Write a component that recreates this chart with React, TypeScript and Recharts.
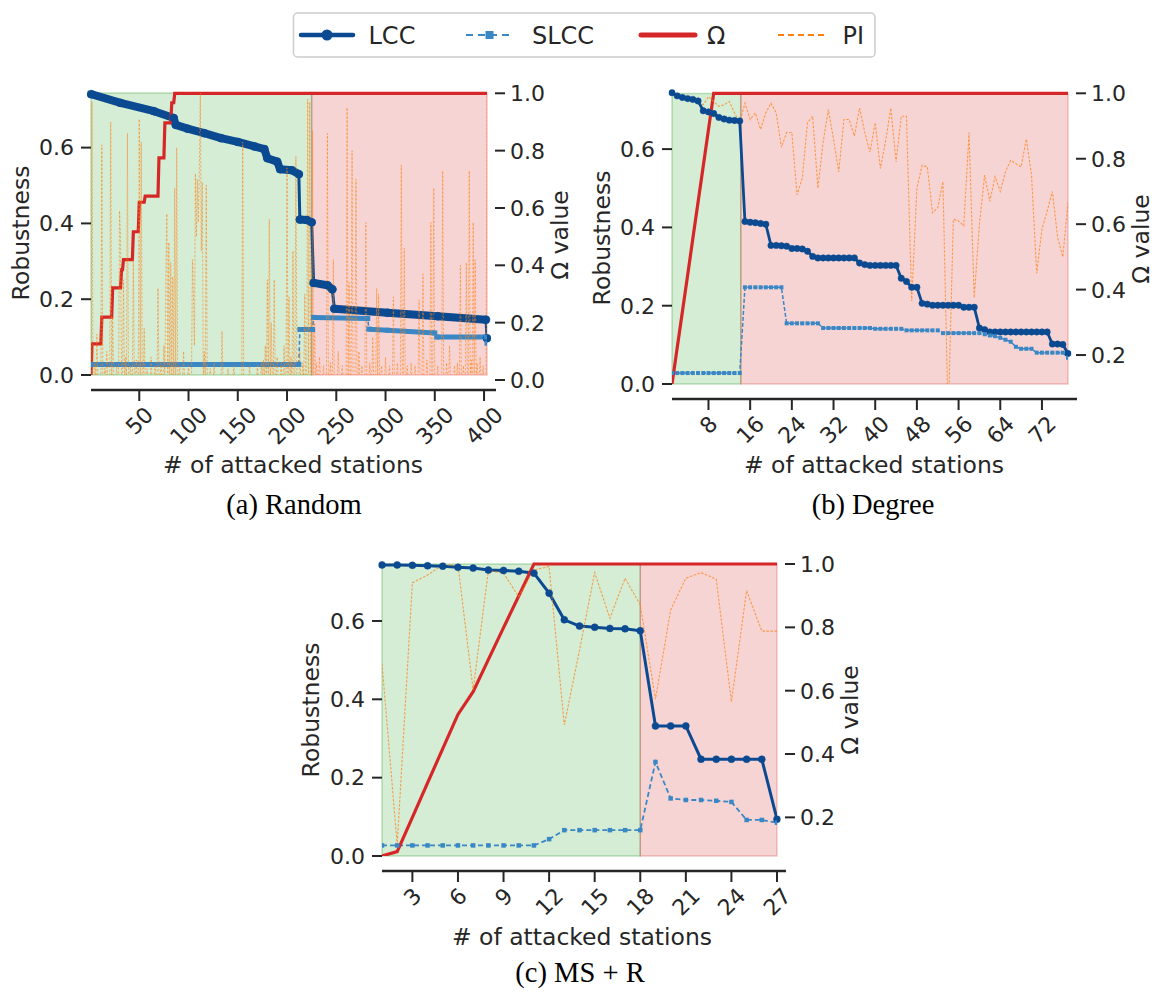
import React from 'react'
import { ComposedChart, Line, XAxis, YAxis, ReferenceArea, ReferenceLine } from 'recharts'

const PAGE_W = 1162
const PAGE_H = 992
const SANS = '"DejaVu Sans", "Noto Sans", sans-serif'
const SERIF = '"Liberation Serif", "DejaVu Serif", serif'
const INK = '#262626'
const LCC_BLUE = '#0b4a91'
const SLCC_BLUE = '#3a87c6'
const OMEGA_RED = '#d62728'
const PI_ORANGE = '#ff7f0e'
const SAFE_GREEN = '#2ca02c'

type XY = [number, number]

// ---------- (a) Random: 403 attacked stations ----------
// LCC / SLCC are long smooth runs, stored as the stations where they bend.
// Each inner list is one run; the jumps between runs are single-station drops.
const randomRange: [number, number] = [1, 403]
const randomSplit = 225
const randomLcc: XY[][] = [
  [[1, 0.741], [31, 0.718], [65, 0.696], [85, 0.678], [87, 0.66], [99, 0.65], [116, 0.638], [133, 0.625],
   [150, 0.615], [167, 0.603], [177, 0.596], [180, 0.572], [190, 0.563], [193, 0.543], [205, 0.54], [212, 0.53]],
  [[213, 0.41], [220, 0.409], [225, 0.403]],
  [[227, 0.243], [241, 0.237], [246, 0.226]],
  [[248, 0.175], [302, 0.164], [353, 0.155], [402, 0.146]],
  [[403, 0.097]],
]
const randomSlcc: XY[][] = [
  [[1, 0.028], [212, 0.028]],
  [[213, 0.12], [226, 0.12]],
  [[227, 0.152], [282, 0.149]],
  [[283, 0.121], [302, 0.118], [350, 0.111]],
  [[352, 0.1], [402, 0.1]],
  [[403, 0.084]],
]
// Omega is a staircase: value held between listed stations
const randomOmega: XY[] = [
  [1, 0.017], [2, 0.126], [11, 0.126], [12, 0.219], [22, 0.219], [23, 0.321], [31, 0.321], [32, 0.385],
  [33, 0.385], [34, 0.42], [43, 0.42], [44, 0.517], [49, 0.517], [50, 0.62], [55, 0.62], [56, 0.641],
  [69, 0.641], [70, 0.775], [75, 0.775], [76, 0.897], [82, 0.897], [83, 0.967], [85, 0.967], [86, 1.0],
  [403, 1.0],
]
// PI is zero except at these stations
const randomPiSpikes: XY[] = [
  [2, 0.97], [5, 0.06], [7, 0.16], [12, 0.82], [15, 0.04], [17, 0.1], [21, 0.9], [23, 0.22], [27, 0.05],
  [30, 0.59], [31, 0.5], [34, 0.35], [36, 0.08], [38, 0.86], [41, 0.05], [44, 0.42], [47, 0.07], [50, 0.91],
  [52, 0.83], [55, 0.18], [58, 0.04], [62, 0.08], [66, 0.05], [69, 0.32], [72, 0.06], [75, 0.12], [77, 0.36],
  [78, 0.58], [80, 0.48], [82, 0.41], [84, 0.36], [86, 0.67], [88, 0.81], [91, 0.05], [95, 0.1], [100, 0.05],
  [104, 0.42], [105, 0.3], [106, 0.12], [107, 0.72], [108, 0.5], [109, 0.7], [110, 0.55], [111, 0.74],
  [112, 1.0], [113, 0.45], [114, 0.69], [116, 0.1], [118, 0.68], [122, 0.04], [126, 0.06], [134, 0.17],
  [140, 0.04], [146, 0.05], [155, 0.83], [162, 0.05], [170, 0.05], [174, 0.06], [176, 0.07], [178, 0.12],
  [180, 0.35], [182, 0.56], [184, 0.2], [187, 0.35], [190, 0.08], [194, 0.06], [197, 0.12], [200, 0.74],
  [202, 0.29], [204, 0.08], [206, 0.45], [209, 0.78], [213, 0.1], [216, 0.06], [218, 0.3], [221, 0.98],
  [223, 0.97], [226, 0.87], [228, 0.2], [230, 0.06], [233, 0.08], [237, 0.05], [241, 0.86], [244, 0.06],
  [247, 0.42], [252, 0.1], [256, 0.05], [261, 0.95], [263, 0.34], [266, 0.8], [270, 0.7], [273, 0.1],
  [276, 0.05], [280, 0.55], [284, 0.06], [287, 0.15], [291, 0.32], [293, 0.3], [296, 0.05], [300, 0.08],
  [304, 0.05], [308, 0.29], [312, 0.06], [316, 0.75], [319, 0.46], [322, 0.05], [326, 0.06], [330, 0.05],
  [334, 0.28], [338, 0.37], [342, 0.07], [346, 0.55], [349, 0.67], [353, 0.05], [358, 0.73], [362, 0.06],
  [365, 0.12], [370, 0.05], [373, 0.06], [376, 0.4], [379, 0.05], [382, 0.41], [385, 0.73], [387, 0.07],
  [389, 0.55], [391, 0.42], [393, 0.06], [396, 0.08], [399, 0.05], [403, 1.0],
]

// ---------- (b) Degree: 77 attacked stations ----------
const degreeSplit = 14.2
const degreeLcc = [
  0.744, 0.736, 0.732, 0.729, 0.727, 0.723, 0.698, 0.695, 0.691, 0.681, 0.677, 0.674, 0.673, 0.672,
  0.415, 0.413, 0.412, 0.41, 0.408,
  0.354, 0.354, 0.353, 0.352, 0.346, 0.346, 0.345, 0.339,
  0.326, 0.322, 0.322, 0.322, 0.322, 0.322, 0.322, 0.322, 0.322,
  0.309, 0.305, 0.303, 0.303, 0.303, 0.303, 0.303, 0.303,
  0.27, 0.262, 0.247, 0.247,
  0.206, 0.204, 0.201, 0.201, 0.201, 0.201, 0.201, 0.201,
  0.196, 0.196, 0.196,
  0.143, 0.139, 0.133, 0.133, 0.133, 0.133, 0.133, 0.133, 0.133, 0.133, 0.133, 0.133, 0.133, 0.133,
  0.102, 0.102, 0.101, 0.078,
]
const degreeSlcc = [
  0.028, 0.028, 0.028, 0.028, 0.028, 0.028, 0.028, 0.028, 0.028, 0.028, 0.028, 0.028, 0.028, 0.028,
  0.247, 0.247, 0.247, 0.247, 0.247, 0.247, 0.247, 0.247,
  0.155, 0.155, 0.155, 0.155, 0.155, 0.155, 0.155,
  0.143, 0.143, 0.143, 0.143, 0.143, 0.143, 0.143, 0.143, 0.143, 0.143,
  0.141, 0.141, 0.141, 0.141, 0.141, 0.141,
  0.137, 0.137, 0.137, 0.137, 0.137, 0.137, 0.137,
  0.13, 0.13, 0.13, 0.13, 0.13, 0.13, 0.13, 0.13,
  0.127, 0.124, 0.122, 0.118, 0.113, 0.108, 0.095, 0.09, 0.09, 0.09,
  0.08, 0.08, 0.08, 0.08, 0.08, 0.08, 0.067,
]
const degreeOmega: XY[] = [
  [1, 0.111], [2, 0.222], [3, 0.333], [4, 0.444], [5, 0.556], [6, 0.667], [7, 0.778], [8, 0.889],
  [9, 1.0], [77, 1.0],
]
const degreePi = [
  1.0, 0.995, 0.99, 0.985, 0.98, 0.975, 0.965, 0.99, 0.975, 0.96, 0.965, 0.975, 0.94, 0.91,
  0.97, 0.92, 0.94, 0.89, 0.94, 0.97, 0.94, 0.835, 0.88, 0.88, 0.69, 0.74, 0.91, 0.93, 0.71, 0.85,
  0.95, 0.86, 0.76, 0.92, 0.92, 0.87, 0.955, 0.88, 0.82, 0.91, 0.77, 0.855, 0.955, 0.79, 0.93, 0.93,
  0.365, 0.71, 0.78, 0.775, 0.635, 0.65, 0.73, 0.0, 0.615, 0.61, 0.595, 0.88, 0.375, 0.6, 0.75, 0.67,
  0.745, 0.7, 0.76, 0.795, 0.785, 0.775, 0.86, 0.75, 0.45, 0.585, 0.64, 0.7, 0.56, 0.5, 0.667,
]

// ---------- (c) MS + R: 27 attacked stations ----------
const msrSplit = 18
const msrLcc = [
  0.743, 0.743, 0.742, 0.741, 0.74, 0.737, 0.735, 0.73, 0.729, 0.727, 0.722, 0.671, 0.603, 0.587,
  0.584, 0.581, 0.58, 0.575, 0.332, 0.332, 0.332, 0.247, 0.247, 0.247, 0.247, 0.247, 0.094,
]
const msrSlcc = [
  0.027, 0.027, 0.027, 0.027, 0.027, 0.027, 0.027, 0.027, 0.027, 0.027, 0.027, 0.043, 0.066, 0.066,
  0.066, 0.066, 0.066, 0.066, 0.24, 0.147, 0.143, 0.143, 0.141, 0.138, 0.092, 0.092, 0.085,
]
const msrOmega = [
  0.078, 0.092, 0.2, 0.309, 0.417, 0.525, 0.597, 0.698, 0.799, 0.899, 1.0, 1.0, 1.0, 1.0,
  1.0, 1.0, 1.0, 1.0, 1.0, 1.0, 1.0, 1.0, 1.0, 1.0, 1.0, 1.0, 1.0,
]
const msrPi = [
  0.686, 0.114, 0.941, 0.965, 0.997, 0.997, 0.602, 0.979, 0.971, 0.897, 0.981, 0.992, 0.492, 0.728,
  0.973, 0.829, 0.955, 0.871, 0.573, 0.855, 0.955, 0.973, 0.952, 0.565, 0.916, 0.788, 0.788,
]

const robustTicks = [0, 0.2, 0.4, 0.6]
const omegaTicksFull = [0, 0.2, 0.4, 0.6, 0.8, 1.0]
const omegaTicks = [0.2, 0.4, 0.6, 0.8, 1.0]

// ---------- helpers ----------
type Pt = { x: number; y: number | null }
const toPoints = (values: number[]): Pt[] => values.map((y, i) => ({ x: i + 1, y }))
const fromPairs = (pairs: XY[]): Pt[] => pairs.map(([x, y]) => ({ x, y }))
const joinRuns = (runs: XY[][]): Pt[] => fromPairs(runs.flat())
// same runs, with a gap between them so the wide band is not drawn across drops
const bandRuns = (runs: XY[][]): Pt[] =>
  runs.flatMap((run, i) => [...(i ? [{ x: run[0][0] - 0.5, y: null }] : []), ...fromPairs(run)])
const spikeSeries = (range: [number, number], spikes: XY[]): Pt[] => {
  const byStation = new Map(spikes)
  const out: Pt[] = []
  for (let k = range[0]; k <= range[1]; k++) out.push({ x: k, y: byStation.get(k) ?? 0 })
  return out
}

// square markers for SLCC; markers at the plot edge stay whole
const squareDot = (size: number, color: string) =>
  Object.assign(
    (p: any) =>
      p.cx == null || p.cy == null ? (
        <g key={`sq-${p.index}`} />
      ) : (
        <rect key={`sq-${p.index}`} x={p.cx - size / 2} y={p.cy - size / 2} width={size} height={size} fill={color} />
      ),
    { clipDot: false },
  )
const roundDot = (r: number) => ({ r, fill: LCC_BLUE, stroke: LCC_BLUE, strokeWidth: 0.5, clipDot: false })

const SPINE_GAP = 15
const TICK_FONT = 22

const stationTick = (p: any) => {
  const label = String(p.payload.value)
  const w = label.length * 0.636 * TICK_FONT
  const side = (w + 0.73 * TICK_FONT) * 0.7071
  const cx = p.x
  const cy = p.y + SPINE_GAP + 11 + 4 + side / 2
  return (
    <g>
      <line x1={cx} x2={cx} y1={p.y + SPINE_GAP} y2={p.y + SPINE_GAP + 11} stroke={INK} strokeWidth={2} />
      <text x={cx} y={cy} dy="0.36em" textAnchor="middle" fontSize={TICK_FONT} fontFamily={SANS} fill={INK}
        transform={`rotate(-45 ${cx} ${cy})`}>
        {label}
      </text>
    </g>
  )
}

const omegaTick = (p: any) => (
  <g>
    <line x1={p.x + 8} x2={p.x + 18} y1={p.y} y2={p.y} stroke={INK} strokeWidth={2} />
    <text x={p.x + 23} y={p.y} dy="0.36em" fontSize={TICK_FONT} fontFamily={SANS} fill={INK}>
      {Number(p.payload.value).toFixed(1)}
    </text>
  </g>
)

interface PanelProps {
  plot: { left: number; right: number; top: number; bottom: number }
  xDomain: [number, number]
  xTicks: number[]
  yTop: number
  shadeTop: number
  omegaDomain: [number, number]
  omegaTicks: number[]
  split: number
  children: React.ReactNode
}

function Panel({ plot, xDomain, xTicks, yTop, shadeTop, omegaDomain, omegaTicks, split, children }: PanelProps) {
  const pxPerY = (plot.bottom - plot.top) / yTop
  const pxPerX = (plot.right - plot.left) / (xDomain[1] - xDomain[0])
  const spineY = -SPINE_GAP / pxPerY
  const spineEnd = xDomain[1] + 9 / pxPerX
  const margin = {
    top: plot.top,
    left: plot.left - 60,
    right: PAGE_W - plot.right - 80,
    bottom: PAGE_H - plot.bottom - 80,
  }
  return (
    <div style={{ position: 'absolute', left: 0, top: 0 }}>
      <ComposedChart width={PAGE_W} height={PAGE_H} margin={margin}>
        <XAxis type="number" dataKey="x" domain={xDomain} ticks={xTicks} interval={0} allowDataOverflow
          height={80} tickSize={0} tickMargin={0} axisLine={false} tickLine={false} tick={stationTick} />
        <YAxis yAxisId="left" orientation="left" type="number" domain={[0, yTop]} ticks={robustTicks}
          interval={0} allowDataOverflow width={60} axisLine={false} tickSize={10} tickMargin={7}
          tickLine={{ stroke: INK, strokeWidth: 2 }} tickFormatter={(v: number) => v.toFixed(1)}
          tick={{ fontSize: TICK_FONT, fontFamily: SANS, fill: INK }} />
        <YAxis yAxisId="right" orientation="right" type="number" domain={omegaDomain} ticks={omegaTicks}
          interval={0} allowDataOverflow width={80} axisLine={false} tickLine={false} tickSize={0}
          tickMargin={0} tick={omegaTick} />
        <ReferenceArea yAxisId="left" x1={xDomain[0]} x2={split} y1={0} y2={shadeTop} fill={SAFE_GREEN}
          fillOpacity={0.2} stroke={SAFE_GREEN} strokeOpacity={0.3} strokeWidth={1.5} />
        <ReferenceArea yAxisId="left" x1={split} x2={xDomain[1]} y1={0} y2={shadeTop} fill={OMEGA_RED}
          fillOpacity={0.2} stroke={OMEGA_RED} strokeOpacity={0.25} strokeWidth={1.5} />
        <ReferenceLine yAxisId="left" ifOverflow="visible" stroke={INK} strokeWidth={2.5}
          segment={[{ x: xDomain[0], y: spineY }, { x: spineEnd, y: spineY }]} />
        {children}
      </ComposedChart>
    </div>
  )
}

function Label({ x, y, text, rotate = 0, size = 23.5, font = SANS }:
  { x: number; y: number; text: string; rotate?: number; size?: number; font?: string }) {
  return (
    <div style={{
      position: 'absolute', left: x, top: y, transform: `translate(-50%, -50%) rotate(${rotate}deg)`,
      whiteSpace: 'nowrap', fontFamily: font, fontSize: size, color: font === SERIF ? '#000' : INK, lineHeight: 1,
    }}>
      {text}
    </div>
  )
}

function LegendBox() {
  const y = 23
  const base = y + 8.75
  const txt = { fontFamily: SANS, fontSize: 24, fill: INK }
  return (
    <svg width={588} height={48} style={{ position: 'absolute', left: 292, top: 12 }}>
      <rect x={1.5} y={1} width={581.5} height={44} rx={4} fill="#fff" stroke="#cccccc" strokeWidth={1.5} />
      <line x1={9} x2={61} y1={y} y2={y} stroke={LCC_BLUE} strokeWidth={4.5} strokeLinecap="round" />
      <circle cx={35} cy={y} r={5.5} fill={LCC_BLUE} />
      <text x={76.5} y={base} {...txt}>LCC</text>
      <line x1={174} x2={221} y1={y} y2={y} stroke={SLCC_BLUE} strokeWidth={2.2} strokeDasharray="7 5" />
      <rect x={193.5} y={y - 4} width={8} height={8} fill={SLCC_BLUE} />
      <text x={240} y={base} {...txt}>SLCC</text>
      <line x1={349} x2={403} y1={y} y2={y} stroke={OMEGA_RED} strokeWidth={5} strokeLinecap="round" />
      <text x={415} y={base} {...txt}>Ω</text>
      <line x1={486} x2={534} y1={y} y2={y} stroke={PI_ORANGE} strokeWidth={2.2} strokeDasharray="6 4" />
      <text x={550.5} y={base} {...txt}>PI</text>
    </svg>
  )
}

const noAnim = { isAnimationActive: false, activeDot: false as const }

export default function App() {
  return (
    <div style={{ position: 'absolute', left: 0, top: 0, width: PAGE_W, height: PAGE_H, background: '#fff', overflow: 'hidden' }}>
      {/* (a) Random */}
      <Panel plot={{ left: 91, right: 487, top: 90, bottom: 375 }} xDomain={randomRange}
        xTicks={[50, 100, 150, 200, 250, 300, 350, 400]} yTop={0.752} shadeTop={0.744}
        omegaDomain={[0.0174, 1.0115]} omegaTicks={omegaTicksFull} split={randomSplit}>
        <Line yAxisId="left" data={bandRuns(randomLcc)} dataKey="y" stroke={LCC_BLUE} strokeWidth={8}
          strokeLinecap="round" strokeLinejoin="round" dot={false} {...noAnim} />
        <Line yAxisId="left" data={joinRuns(randomLcc)} dataKey="y" stroke={LCC_BLUE} strokeWidth={3}
          dot={roundDot(4)} {...noAnim} />
        <Line yAxisId="left" data={bandRuns(randomSlcc)} dataKey="y" stroke={SLCC_BLUE} strokeWidth={5}
          dot={false} {...noAnim} />
        <Line yAxisId="left" data={joinRuns(randomSlcc)} dataKey="y" stroke={SLCC_BLUE} strokeWidth={1.6}
          strokeDasharray="4 2.5" dot={squareDot(5, SLCC_BLUE)} {...noAnim} />
        <Line yAxisId="right" data={fromPairs(randomOmega)} dataKey="y" stroke={OMEGA_RED} strokeWidth={3.2}
          dot={false} {...noAnim} />
        <Line yAxisId="right" data={spikeSeries(randomRange, randomPiSpikes)} dataKey="y" stroke={PI_ORANGE}
          strokeOpacity={0.55} strokeWidth={1} strokeDasharray="2.5 1.5" dot={false} {...noAnim} />
      </Panel>

      {/* (b) Degree */}
      <Panel plot={{ left: 672, right: 1068, top: 90, bottom: 384 }} xDomain={[1, 77]}
        xTicks={[8, 16, 24, 32, 40, 48, 56, 64, 72]} yTop={0.751} shadeTop={0.742}
        omegaDomain={[0.1115, 1.0101]} omegaTicks={omegaTicks} split={degreeSplit}>
        <Line yAxisId="left" data={toPoints(degreeLcc)} dataKey="y" stroke={LCC_BLUE} strokeWidth={2.8}
          dot={roundDot(3.2)} {...noAnim} />
        <Line yAxisId="left" data={toPoints(degreeSlcc)} dataKey="y" stroke={SLCC_BLUE} strokeWidth={1.5}
          strokeDasharray="4 2" dot={squareDot(4, SLCC_BLUE)} {...noAnim} />
        <Line yAxisId="right" data={fromPairs(degreeOmega)} dataKey="y" stroke={OMEGA_RED} strokeWidth={3.2}
          dot={false} {...noAnim} />
        <Line yAxisId="right" data={toPoints(degreePi)} dataKey="y" stroke={PI_ORANGE} strokeOpacity={0.7}
          strokeWidth={1.1} strokeDasharray="2.5 1.5" dot={false} {...noAnim} />
      </Panel>

      {/* (c) MS + R */}
      <Panel plot={{ left: 382, right: 777, top: 561, bottom: 856 }} xDomain={[1, 27]}
        xTicks={[3, 6, 9, 12, 15, 18, 21, 24, 27]} yTop={0.7531} shadeTop={0.7455}
        omegaDomain={[0.078, 1.0095]} omegaTicks={omegaTicks} split={msrSplit}>
        <Line yAxisId="left" data={toPoints(msrLcc)} dataKey="y" stroke={LCC_BLUE} strokeWidth={3}
          dot={roundDot(3.5)} {...noAnim} />
        <Line yAxisId="left" data={toPoints(msrSlcc)} dataKey="y" stroke={SLCC_BLUE} strokeWidth={1.8}
          strokeDasharray="5 3" dot={squareDot(4.5, SLCC_BLUE)} {...noAnim} />
        <Line yAxisId="right" data={toPoints(msrOmega)} dataKey="y" stroke={OMEGA_RED} strokeWidth={3.2}
          dot={false} {...noAnim} />
        <Line yAxisId="right" data={toPoints(msrPi)} dataKey="y" stroke={PI_ORANGE} strokeOpacity={0.7}
          strokeWidth={1.1} strokeDasharray="2.5 1.5" dot={false} {...noAnim} />
      </Panel>

      <LegendBox />

      <Label x={22} y={233} text="Robustness" rotate={-90} />
      <Label x={561} y={235} text="Ω value" rotate={-90} />
      <Label x={293} y={466} text="# of attacked stations" />
      <Label x={294} y={505} text="(a) Random" font={SERIF} size={28.5} />

      <Label x={603} y={238} text="Robustness" rotate={-90} />
      <Label x={1142} y={239} text="Ω value" rotate={-90} />
      <Label x={874} y={466} text="# of attacked stations" />
      <Label x={873} y={505} text="(b) Degree" font={SERIF} size={28.5} />

      <Label x={312} y={710} text="Robustness" rotate={-90} />
      <Label x={851} y={710} text="Ω value" rotate={-90} />
      <Label x={582} y={938} text="# of attacked stations" />
      <Label x={580} y={973} text="(c) MS + R" font={SERIF} size={28.5} />
    </div>
  )
}
